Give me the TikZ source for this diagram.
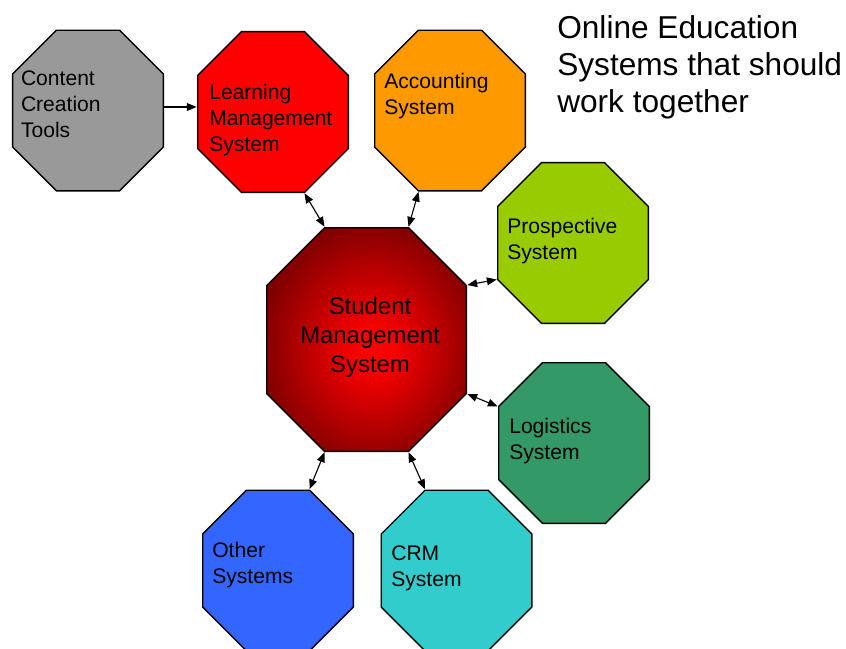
\documentclass[tikz,border=0pt]{standalone}
\usepackage{fontspec}
\setmainfont{Liberation Sans}
\usetikzlibrary{calc,arrows.meta}
\definecolor{smsdark}{RGB}{116,0,0}
\definecolor{ccsgray}{HTML}{999999}
\definecolor{acccol}{HTML}{FF9900}
\definecolor{proscol}{HTML}{99CC00}
\definecolor{logicol}{HTML}{339966}
\definecolor{othcol}{HTML}{3366FF}
\definecolor{crmcol}{HTML}{33CCCC}
\pgfdeclareradialshading{smsglow}{\pgfpoint{2bp}{-2bp}}{color(0bp)=(red); color(4bp)=(red); color(30bp)=(smsdark); color(100bp)=(smsdark)}
\newcommand\octcut{1.1125cm}
\tikzset{ sys/.style = { rectangle % octagon box, drawn as path picture
        , minimum width = 3.8cm
        , minimum height = 4.05cm
        , inner sep = 0pt
        , path picture = {\path [draw, line width=1pt, line join=miter, #1]
            ([xshift=\octcut,yshift=-0.5pt]path picture bounding box.north west)
         -- ([xshift=-\octcut,yshift=-0.5pt]path picture bounding box.north east)
         -- ([xshift=-0.5pt,yshift=-\octcut]path picture bounding box.north east)
         -- ([xshift=-0.5pt,yshift=\octcut]path picture bounding box.south east)
         -- ([xshift=-\octcut,yshift=0.5pt]path picture bounding box.south east)
         -- ([xshift=\octcut,yshift=0.5pt]path picture bounding box.south west)
         -- ([xshift=0.5pt,yshift=\octcut]path picture bounding box.south west)
         -- ([xshift=0.5pt,yshift=-\octcut]path picture bounding box.north west)
         -- cycle;}
        }
        , txt/.style = { anchor = base west % box text
        , align = left
        , inner sep = 0pt
        , font = \fontsize{15}{18.5}\selectfont
        }
        }

\begin{document}
\begin{tikzpicture}[
        link/.style={line width=0.8pt,{Triangle[length=7pt,width=5.5pt]}-{Triangle[length=7pt,width=5.5pt]}},
        feed/.style={line width=0.8pt,-{Triangle[length=7pt,width=5.5pt]}}]
        \useasboundingbox (0,0) rectangle (21.15,-16.225);

        \node [sys={fill=ccsgray}](ccs) at (2.2,-2.763) {};
        \node [sys={fill=red}](lms) at (6.825,-2.8) {};
        \node [sys={fill=acccol}](acc) at (11.25,-2.763) {};
        \node [sys={fill=proscol}](pros) at (14.325,-6.075) {};
        \node [sys={fill=logicol}](logi) at (14.35,-11.075) {};
        \node [sys={fill=othcol}](oth) at (6.95,-14.263) {};
        \node [sys={fill=crmcol}](crm) at (11.413,-14.263) {};
        \renewcommand\octcut{1.4625cm}
        \node [sys={shading=smsglow},minimum width=5.025cm,minimum height=5.625cm](sms) at (9.163,-8.488) {};

        \node [txt](ccs text) at (0.518,-3.433) {Content\\Creation\\Tools};
        \node [txt](lms text) at (5.225,-3.793) {Learning\\Management\\System};
        \node [txt](acc text) at (9.6,-2.858) {Accounting\\System};
        \node [txt](pros text) at (12.675,-6.483) {Prospective\\System};
        \node [txt](logi text) at (12.725,-11.483) {Logistics\\System};
        \node [txt](oth text) at (5.3,-14.583) {Other\\Systems};
        \node [txt](crm text) at (9.775,-14.668) {CRM\\System};
        \node [txt,anchor=base,align=center,font=\fontsize{17}{20.3}\selectfont](sms text) at (9.25,-9.3) {Student\\Management\\System};
        \node [txt,font=\fontsize{22.5}{26.5}\selectfont](title) at (13.925,-2.825) {Online Education\\Systems that should\\work together};

        \draw [feed] ([yshift=2.5pt]ccs.east) -- ([yshift=2.5pt]ccs.east -| lms.west);
        \draw [link] ($(lms.south)+(0.7875,0)$) -- ($(sms.north)+(-1.05,0)$);
        \draw [link] ($(acc.south)+(-0.7875,0)$) -- ($(sms.north)+(1.05,0)$);
        \draw [link] ($(sms.east)+(0,1.3625)$) -- ($(pros.west)+(0,-0.9125)$);
        \draw [link] ($(sms.east)+(0,-1.3625)$) -- ($(logi.west)+(0,0.9125)$);
        \draw [link] ($(sms.south)+(-1.05,0)$) -- ($(oth.north)+(0.7875,0)$);
        \draw [link] ($(sms.south)+(1.05,0)$) -- ($(crm.north)+(-0.7875,0)$);
\end{tikzpicture}
\end{document}
